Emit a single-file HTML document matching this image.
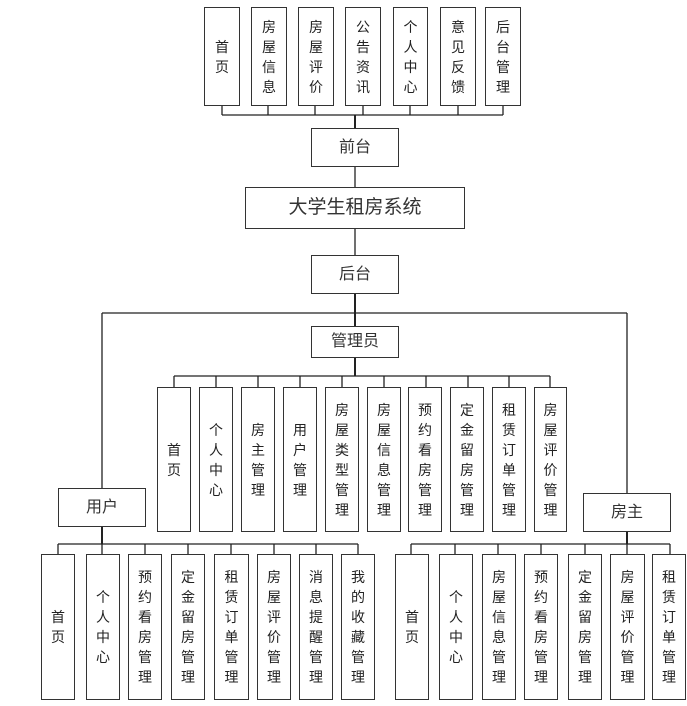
<!DOCTYPE html>
<html><head><meta charset="utf-8"><style>
body{margin:0;background:#fff;}
#c{position:relative;width:687px;height:706px;overflow:hidden;font-family:"Liberation Sans","Noto Sans CJK SC","WenQuanYi Zen Hei",sans-serif;color:#222;}
.b{position:absolute;box-sizing:border-box;border:1.5px solid #333;background:#fff;display:flex;align-items:center;justify-content:center;text-align:center;font-size:14px;line-height:20px;}
.h{font-size:16px;color:#333;}
svg{position:absolute;left:0;top:0;}
</style></head><body><div id="c">
<svg width="687" height="706" stroke="#222" stroke-width="1.3" fill="none">
<!-- top -->
<line x1="222" y1="115" x2="503" y2="115"/>
<line x1="222" y1="106" x2="222" y2="115"/><line x1="268" y1="106" x2="268" y2="115"/><line x1="315" y1="106" x2="315" y2="115"/><line x1="363" y1="106" x2="363" y2="115"/><line x1="410" y1="106" x2="410" y2="115"/><line x1="458" y1="106" x2="458" y2="115"/><line x1="503" y1="106" x2="503" y2="115"/>
<line x1="355" y1="115" x2="355" y2="128" stroke-width="2"/>
<line x1="355" y1="167" x2="355" y2="187"/>
<line x1="355" y1="229" x2="355" y2="255"/>
<line x1="355" y1="294" x2="355" y2="326" stroke-width="2"/>
<line x1="102" y1="313" x2="627" y2="313"/>
<line x1="102" y1="313" x2="102" y2="488"/>
<line x1="627" y1="313" x2="627" y2="493"/>
<!-- admin -->
<line x1="355" y1="358" x2="355" y2="376" stroke-width="2"/>
<line x1="174" y1="376" x2="550" y2="376"/>
<line x1="174" y1="376" x2="174" y2="387"/><line x1="216" y1="376" x2="216" y2="387"/><line x1="258" y1="376" x2="258" y2="387"/><line x1="300" y1="376" x2="300" y2="387"/><line x1="342" y1="376" x2="342" y2="387"/><line x1="384" y1="376" x2="384" y2="387"/><line x1="426" y1="376" x2="426" y2="387"/><line x1="468" y1="376" x2="468" y2="387"/><line x1="509" y1="376" x2="509" y2="387"/><line x1="550" y1="376" x2="550" y2="387"/>
<!-- user -->
<line x1="102" y1="527" x2="102" y2="544" stroke-width="2"/>
<line x1="58" y1="544" x2="358" y2="544"/>
<line x1="58" y1="544" x2="58" y2="554"/><line x1="102" y1="544" x2="102" y2="554"/><line x1="145" y1="544" x2="145" y2="554"/><line x1="188" y1="544" x2="188" y2="554"/><line x1="231" y1="544" x2="231" y2="554"/><line x1="274" y1="544" x2="274" y2="554"/><line x1="316" y1="544" x2="316" y2="554"/><line x1="358" y1="544" x2="358" y2="554"/>
<!-- host -->
<line x1="627" y1="532" x2="627" y2="544" stroke-width="2"/>
<line x1="411" y1="544" x2="670" y2="544"/>
<line x1="411" y1="544" x2="411" y2="554"/><line x1="455" y1="544" x2="455" y2="554"/><line x1="498" y1="544" x2="498" y2="554"/><line x1="541" y1="544" x2="541" y2="554"/><line x1="585" y1="544" x2="585" y2="554"/><line x1="627" y1="544" x2="627" y2="554"/><line x1="670" y1="544" x2="670" y2="554"/>
</svg>

<div class="b" style="left:204px;top:7px;width:36px;height:99px">首<br>页</div>
<div class="b" style="left:251px;top:7px;width:36px;height:99px">房<br>屋<br>信<br>息</div>
<div class="b" style="left:298px;top:7px;width:36px;height:99px">房<br>屋<br>评<br>价</div>
<div class="b" style="left:345px;top:7px;width:36px;height:99px">公<br>告<br>资<br>讯</div>
<div class="b" style="left:393px;top:7px;width:35px;height:99px">个<br>人<br>中<br>心</div>
<div class="b" style="left:440px;top:7px;width:36px;height:99px">意<br>见<br>反<br>馈</div>
<div class="b" style="left:485px;top:7px;width:36px;height:99px">后<br>台<br>管<br>理</div>

<div class="b h" style="left:311px;top:128px;width:88px;height:39px">前台</div>
<div class="b h" style="left:245px;top:187px;width:220px;height:42px;font-size:19px">大学生租房系统</div>
<div class="b h" style="left:311px;top:255px;width:88px;height:39px">后台</div>
<div class="b h" style="left:311px;top:326px;width:88px;height:32px">管理员</div>

<div class="b" style="left:157px;top:387px;width:34px;height:145px">首<br>页</div>
<div class="b" style="left:199px;top:387px;width:34px;height:145px">个<br>人<br>中<br>心</div>
<div class="b" style="left:241px;top:387px;width:34px;height:145px">房<br>主<br>管<br>理</div>
<div class="b" style="left:283px;top:387px;width:34px;height:145px">用<br>户<br>管<br>理</div>
<div class="b" style="left:325px;top:387px;width:34px;height:145px">房<br>屋<br>类<br>型<br>管<br>理</div>
<div class="b" style="left:367px;top:387px;width:34px;height:145px">房<br>屋<br>信<br>息<br>管<br>理</div>
<div class="b" style="left:408px;top:387px;width:34px;height:145px">预<br>约<br>看<br>房<br>管<br>理</div>
<div class="b" style="left:450px;top:387px;width:34px;height:145px">定<br>金<br>留<br>房<br>管<br>理</div>
<div class="b" style="left:492px;top:387px;width:34px;height:145px">租<br>赁<br>订<br>单<br>管<br>理</div>
<div class="b" style="left:534px;top:387px;width:33px;height:145px">房<br>屋<br>评<br>价<br>管<br>理</div>

<div class="b h" style="left:58px;top:488px;width:88px;height:39px">用户</div>
<div class="b h" style="left:583px;top:493px;width:88px;height:39px">房主</div>

<div class="b" style="left:41px;top:554px;width:34px;height:146px">首<br>页</div>
<div class="b" style="left:86px;top:554px;width:34px;height:146px">个<br>人<br>中<br>心</div>
<div class="b" style="left:128px;top:554px;width:34px;height:146px">预<br>约<br>看<br>房<br>管<br>理</div>
<div class="b" style="left:171px;top:554px;width:34px;height:146px">定<br>金<br>留<br>房<br>管<br>理</div>
<div class="b" style="left:214px;top:554px;width:35px;height:146px">租<br>赁<br>订<br>单<br>管<br>理</div>
<div class="b" style="left:257px;top:554px;width:34px;height:146px">房<br>屋<br>评<br>价<br>管<br>理</div>
<div class="b" style="left:299px;top:554px;width:34px;height:146px">消<br>息<br>提<br>醒<br>管<br>理</div>
<div class="b" style="left:341px;top:554px;width:34px;height:146px">我<br>的<br>收<br>藏<br>管<br>理</div>

<div class="b" style="left:395px;top:554px;width:34px;height:146px">首<br>页</div>
<div class="b" style="left:439px;top:554px;width:34px;height:146px">个<br>人<br>中<br>心</div>
<div class="b" style="left:482px;top:554px;width:34px;height:146px">房<br>屋<br>信<br>息<br>管<br>理</div>
<div class="b" style="left:524px;top:554px;width:34px;height:146px">预<br>约<br>看<br>房<br>管<br>理</div>
<div class="b" style="left:568px;top:554px;width:34px;height:146px">定<br>金<br>留<br>房<br>管<br>理</div>
<div class="b" style="left:610px;top:554px;width:35px;height:146px">房<br>屋<br>评<br>价<br>管<br>理</div>
<div class="b" style="left:652px;top:554px;width:34px;height:146px">租<br>赁<br>订<br>单<br>管<br>理</div>
</div></body></html>
